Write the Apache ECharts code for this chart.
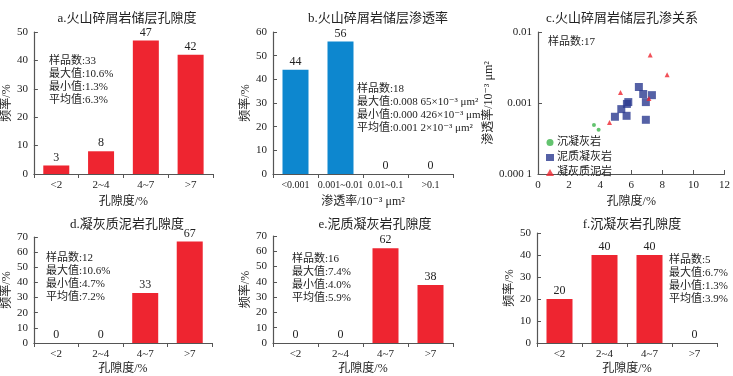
<!DOCTYPE html>
<html>
<head>
<meta charset="utf-8">
<script src="https://cdn.jsdelivr.net/npm/echarts@6/dist/echarts.min.js"></script>
<style>
  html, body { margin: 0; padding: 0; background: #fff; }
  #chart { width: 733px; height: 376px; }
</style>
</head>
<body>
<div id="chart"></div>
<script>
// categories
const porosityCats = ['<2', '2~4', '4~7', '>7'];
const permCats = ['<0.001', '0.001~0.01', '0.01~0.1', '>0.1'];

// bar values (frequency, %)
const aValues = [3, 8, 47, 42];
const bValues = [44, 56, 0, 0];
const dValues = [0, 0, 33, 67];
const eValues = [0, 0, 62, 38];
const fValues = [20, 40, 40, 0];

// scatter points [porosity %, permeability 10^-3 um^2]
const tuffPts = [[3.6, 0.00049], [3.9, 0.00042]];
const mudTuffPts = [
  [4.95, 0.00064], [5.36, 0.00082], [5.72, 0.00097], [5.81, 0.00103],
  [5.7, 0.00066], [6.49, 0.00168], [6.77, 0.00134], [7.33, 0.00129],
  [6.94, 0.00103], [6.94, 0.00058]
];
const tuffMudPts = [[7.22, 0.00476], [8.31, 0.0025], [5.31, 0.0014], [7.14, 0.00116], [4.6, 0.00053]];

// annotation text
const aNote = ['样品数:33', '最大值:10.6%', '最小值:1.3%', '平均值:6.3%'];
const bNote = ['样品数:18', '最大值:0.008 65×10⁻³ μm²', '最小值:0.000 426×10⁻³ μm²', '平均值:0.001 2×10⁻³ μm²'];
const cNote = ['样品数:17'];
const dNote = ['样品数:12', '最大值:10.6%', '最小值:4.7%', '平均值:7.2%'];
const eNote = ['样品数:16', '最大值:7.4%', '最小值:4.0%', '平均值:5.9%'];
const fNote = ['样品数:5', '最大值:6.7%', '最小值:1.3%', '平均值:3.9%'];

const FONT = "'Liberation Serif', 'DejaVu Serif', 'Noto Sans CJK SC', serif";
const RED = '#ee2530';
const BLUE = '#0d87cf';
const AXIS = '#555';
const TXT = '#222';

const chart = echarts.init(document.getElementById('chart'));

const grids = [
  { left: 31, top: 32, width: 182, height: 142 },
  { left: 273, top: 32, width: 180, height: 142 },
  { left: 538, top: 32, width: 187, height: 142 },
  { left: 29, top: 237, width: 183, height: 106 },
  { left: 273, top: 236, width: 180, height: 107 },
  { left: 537, top: 233, width: 180, height: 110 }
];

const axisLine = { lineStyle: { color: AXIS, width: 1.2 } };
const axisLabel = { color: TXT, fontSize: 11, fontFamily: FONT, margin: 6 };
const nameStyle = { color: TXT, fontSize: 12, fontFamily: FONT };

function catAxis(gi, cats, name, gap) {
  return {
    type: 'category', gridIndex: gi, data: cats,
    axisLine, axisLabel: { ...axisLabel, interval: 0, hideOverlap: false },
    axisTick: { show: true, length: 4, lineStyle: { color: AXIS } },
    name, nameLocation: 'middle', nameGap: gap, nameTextStyle: nameStyle
  };
}
function valAxis(gi, max, interval, gap) {
  return {
    type: 'value', gridIndex: gi, min: 0, max, interval,
    axisLine: { show: true, ...axisLine }, axisLabel,
    axisTick: { show: true, inside: true, length: 4, lineStyle: { color: AXIS } },
    splitLine: { show: false },
    name: '频率/%', nameLocation: 'middle', nameGap: gap, nameRotate: 90, nameTextStyle: nameStyle
  };
}
function barSeries(idx, values, color) {
  return {
    type: 'bar', xAxisIndex: idx, yAxisIndex: idx, data: values, barWidth: 26,
    itemStyle: { color },
    label: { show: true, position: 'top', color: TXT, fontSize: 12, fontFamily: FONT, distance: 2 },
    silent: true
  };
}
function note(x, y, lines) {
  return {
    type: 'text', left: x, top: y,
    style: { text: lines.join('\n'), font: '11px ' + FONT, fill: TXT, lineHeight: 12.8 }
  };
}

const titleStyle = { color: TXT, fontSize: 13, fontFamily: FONT, fontWeight: 'normal' };
const titles = [
  ['a.火山碎屑岩储层孔隙度', 122, 7],
  ['b.火山碎屑岩储层渗透率', 373, 7],
  ['c.火山碎屑岩储层孔渗关系', 617, 7],
  ['d.凝灰质泥岩孔隙度', 122, 213],
  ['e.泥质凝灰岩孔隙度', 370, 213],
  ['f.沉凝灰岩孔隙度', 627, 213]
].map(([text, x, y]) => ({ text, left: x, top: y, textAlign: 'center', textStyle: titleStyle }));

const bXAxis = catAxis(1, permCats, '渗透率/10⁻³ μm²', 22);
bXAxis.axisLabel.fontSize = 10;

const option = {
  animation: false,
  backgroundColor: '#fff',
  title: titles,
  grid: grids,
  legend: {
    orient: 'vertical', left: 541, top: 132, itemWidth: 8, itemHeight: 7, itemGap: 4,
    data: ['沉凝灰岩', '泥质凝灰岩', '凝灰质泥岩'],
    textStyle: { color: TXT, fontSize: 11, fontFamily: FONT, padding: [0, 0, 0, -2] }
  },
  xAxis: [
    catAxis(0, porosityCats, '孔隙度/%', 22),
    bXAxis,
    {
      type: 'value', gridIndex: 2, min: 0, max: 12, interval: 2,
      axisLine, axisLabel,
      axisTick: { show: true, inside: true, length: 4, lineStyle: { color: AXIS } },
      splitLine: { show: false },
      name: '孔隙度/%', nameLocation: 'middle', nameGap: 22, nameTextStyle: nameStyle
    },
    catAxis(3, porosityCats, '孔隙度/%', 20),
    catAxis(4, porosityCats, '孔隙度/%', 20),
    catAxis(5, porosityCats, '孔隙度/%', 20)
  ],
  yAxis: [
    valAxis(0, 50, 10, 17),
    valAxis(1, 60, 10, 17),
    {
      type: 'log', gridIndex: 2, min: 0.0001, max: 0.01, logBase: 10,
      axisLine: { show: true, ...axisLine },
      axisLabel: { ...axisLabel, formatter: v => v >= 0.0099 ? '0.01' : (v >= 0.00099 ? '0.001' : '0.000 1') },
      axisTick: { show: true, inside: true, length: 4, lineStyle: { color: AXIS } },
      splitLine: { show: false },
      name: '渗透率/10⁻³ μm²', nameLocation: 'middle', nameGap: 33, nameRotate: 90, nameTextStyle: nameStyle
    },
    valAxis(3, 70, 10, 17),
    valAxis(4, 70, 10, 17),
    valAxis(5, 50, 10, 17)
  ],
  series: [
    barSeries(0, aValues, RED),
    barSeries(1, bValues, BLUE),
    {
      name: '沉凝灰岩', type: 'scatter', xAxisIndex: 2, yAxisIndex: 2, data: tuffPts,
      symbol: 'circle', symbolSize: 4, itemStyle: { color: '#3cb44b' }
    },
    {
      name: '泥质凝灰岩', type: 'scatter', xAxisIndex: 2, yAxisIndex: 2, data: mudTuffPts,
      symbol: 'rect', symbolSize: 8, itemStyle: { color: '#2b3990' }
    },
    {
      name: '凝灰质泥岩', type: 'scatter', xAxisIndex: 2, yAxisIndex: 2, data: tuffMudPts,
      symbol: 'triangle', symbolSize: 5, itemStyle: { color: RED }
    },
    barSeries(3, dValues, RED),
    barSeries(4, eValues, RED),
    barSeries(5, fValues, RED)
  ],
  graphic: [
    note(49, 55, aNote),
    note(357, 83, bNote),
    note(548, 36, cNote),
    note(46, 252, dNote),
    note(292, 253, eNote),
    note(669, 254, fNote)
  ]
};

chart.setOption(option);
</script>
</body>
</html>
